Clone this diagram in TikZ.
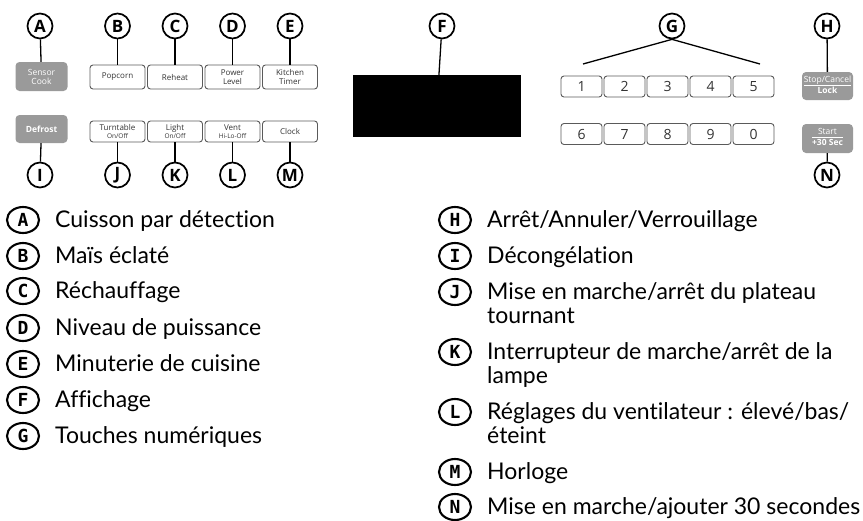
\documentclass[tikz,border=0pt]{standalone}
\usepackage{fontspec}
\setmainfont{Lato}[Ligatures=NoCommon]
\newfontfamily\panelfont{Open Sans}
\newfontfamily\tagfont{DejaVu Sans Mono}
\usetikzlibrary{shapes.geometric}
\definecolor{btngray}{HTML}{9A9A9A}
\definecolor{keyline}{HTML}{5A5A5A}
\definecolor{keytext}{HTML}{333333}
\tikzset{
  callout/.style={circle, draw, line width=1.7pt, inner sep=0pt, minimum size=25pt, font=\panelfont\bfseries\fontsize{17}{17}\selectfont},
  legtag/.style={ellipse, draw, line width=2.1pt, inner sep=0pt, minimum width=32pt, minimum height=26pt, font=\tagfont\bfseries\fontsize{18}{18}\selectfont},
  legtext/.style={anchor=base west, align=left, inner sep=0pt, font=\fontsize{23}{24}\selectfont},
  padkey/.style={draw=keyline, line width=0.9pt, rounded corners=3pt, minimum width=55pt, minimum height=24pt, inner sep=0pt, align=center, text=keytext, font=\panelfont\fontsize{8}{8.5}\selectfont},
  numkey/.style={padkey, minimum width=41pt, minimum height=21pt, font=\panelfont\fontsize{14}{14}\selectfont},
  graykey/.style={fill=btngray, rounded corners=4pt, minimum width=52pt, minimum height=29pt, inner sep=0pt, align=center, text=white, font=\panelfont\fontsize{8.5}{9}\selectfont},
  lead/.style={line width=1.3pt},
}
\newcommand{\smalltxt}[1]{{\fontsize{6.5}{7}\selectfont #1}}
\begin{document}
\begin{tikzpicture}[x=1pt,y=-1pt]
\useasboundingbox (0,0) rectangle (863,520);

% control panel keys
\node[graykey] (sensor) at (41.5,76.5) {Sensor\\Cook};
\node[padkey] (popcorn) at (117.5,77) {Popcorn};
\node[padkey] (reheat) at (175,77) {Reheat};
\node[padkey] (power) at (232.5,77) {Power\\Level};
\node[padkey] (timer) at (290,77) {Kitchen\\Timer};
\node[graykey, minimum height=28pt, font=\panelfont\bfseries\fontsize{8.5}{9}\selectfont] (defrost) at (41.5,129) {Defrost};
\node[padkey, minimum height=21pt] (turn) at (117.5,131.5) {Turntable\\\smalltxt{On/Off}};
\node[padkey, minimum height=21pt] (light) at (175,131.5) {Light\\\smalltxt{On/Off}};
\node[padkey, minimum height=21pt] (vent) at (232.5,131.5) {Vent\\\smalltxt{Hi-Lo-Off}};
\node[padkey, minimum height=21pt] (clock) at (290,131.5) {Clock};

\node[fill=black, minimum width=168pt, minimum height=62pt, inner sep=0pt] (disp) at (437,106) {};

\node[numkey] (k1) at (581.5,86.5) {1};
\node[numkey] (k2) at (624.5,86.5) {2};
\node[numkey] (k3) at (667.5,86.5) {3};
\node[numkey] (k4) at (710.5,86.5) {4};
\node[numkey] (k5) at (753.5,86.5) {5};
\node[numkey] (k6) at (581.5,134) {6};
\node[numkey] (k7) at (624.5,134) {7};
\node[numkey] (k8) at (667.5,134) {8};
\node[numkey] (k9) at (710.5,134) {9};
\node[numkey] (k0) at (753.5,134) {0};

\node[graykey, minimum width=51pt, minimum height=28pt] (stop) at (827.5,86) {\begin{tabular}{@{}c@{}}Stop/Cancel\\\hline\rule{0pt}{8pt}\textbf{Lock}\end{tabular}};
\node[graykey, minimum width=51pt, minimum height=29pt] (start) at (827.5,138.5) {\begin{tabular}{@{}c@{}}Start\\\hline\rule{0pt}{8pt}\textbf{+30 Sec}\end{tabular}};

% callouts
\node[callout] (cA) at (40,26) {A};
\node[callout] (cB) at (117.5,26) {B};
\node[callout] (cC) at (175,26) {C};
\node[callout] (cD) at (232.5,26) {D};
\node[callout] (cE) at (290,26) {E};
\node[callout] (cF) at (442,26) {F};
\node[callout] (cG) at (672,26) {G};
\node[callout] (cH) at (827,26) {H};
\node[callout] (cI) at (40,175) {I};
\node[callout] (cJ) at (117.5,175) {J};
\node[callout] (cK) at (175,175) {K};
\node[callout] (cL) at (232.5,175) {L};
\node[callout] (cM) at (290,175) {M};
\node[callout] (cN) at (827,175) {N};

\coordinate (g1) at (583,64);
\coordinate (g5) at (760,64);

\draw[lead] (cA) -- (sensor);
\draw[lead] (cB) -- (popcorn);
\draw[lead] (cC) -- (reheat);
\draw[lead] (cD) -- (power);
\draw[lead] (cE) -- (timer);
\draw[lead] (cF) -- (disp);
\draw[lead] (cG.south) -- (g1);
\draw[lead] (cG.south) -- (g5);
\draw[lead] (cH) -- (stop);
\draw[lead] (cI) -- (defrost);
\draw[lead] (cJ) -- (turn);
\draw[lead] (cK) -- (light);
\draw[lead] (cL) -- (vent);
\draw[lead] (cM) -- (clock);
\draw[lead] (cN) -- (start);

% legend
\node[legtag] (tA) at (23,220) {A};
\node[legtag] (tB) at (23,256) {B};
\node[legtag] (tC) at (23,291) {C};
\node[legtag] (tD) at (23,328) {D};
\node[legtag] (tE) at (23,364) {E};
\node[legtag] (tF) at (23,400) {F};
\node[legtag] (tG) at (23,436) {G};
\node[legtext] (xA) at (55,227) {Cuisson par détection};
\node[legtext] (xB) at (55,263) {Maïs éclaté};
\node[legtext] (xC) at (55,298) {Réchauffage};
\node[legtext] (xD) at (55,335) {Niveau de puissance};
\node[legtext] (xE) at (55,371) {Minuterie de cuisine};
\node[legtext] (xF) at (55,407) {Affichage};
\node[legtext] (xG) at (55,443) {Touches numériques};

\node[legtag] (tH) at (455,220) {H};
\node[legtag] (tI) at (455,256) {I};
\node[legtag] (tJ) at (455,292) {J};
\node[legtag] (tK) at (455,352) {K};
\node[legtag] (tL) at (455,412) {L};
\node[legtag] (tM) at (455,472) {M};
\node[legtag] (tN) at (455,507) {N};
\node[legtext] (xH) at (487,227) {Arrêt/Annuler/Verrouillage};
\node[legtext] (xI) at (487,263) {Décongélation};
\node[legtext] (xJ) at (487,323) {Mise en marche/arrêt du plateau\\tournant};
\node[legtext] (xK) at (487,383) {Interrupteur de marche/arrêt de la\\lampe};
\node[legtext] (xL) at (487,443) {Réglages du ventilateur : élevé/bas/\\éteint};
\node[legtext] (xM) at (487,479) {Horloge};
\node[legtext] (xN) at (487,514) {Mise en marche/ajouter 30 secondes};
\end{tikzpicture}
\end{document}
